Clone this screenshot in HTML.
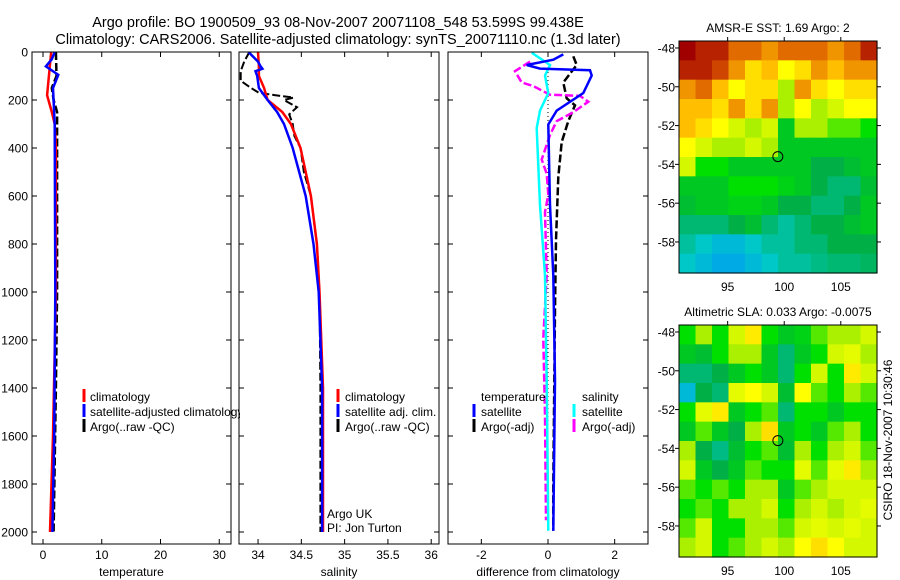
<!DOCTYPE html>
<html><head><meta charset="utf-8">
<style>
html,body{margin:0;padding:0;background:#fff;}
svg{display:block;font-family:"Liberation Sans",sans-serif;}
text{fill:#000;}
</style></head>
<body>
<svg id="fig" width="900" height="580" viewBox="0 0 900 580" xmlns="http://www.w3.org/2000/svg">
<text x="338" y="27" font-size="14.5" text-anchor="middle">Argo profile: BO 1900509_93 08-Nov-2007 20071108_548 53.599S 99.438E</text>
<text x="338" y="44" font-size="14.5" text-anchor="middle">Climatology: CARS2006. Satellite-adjusted climatology: synTS_20071110.nc (1.3d later)</text>
<g id="layer"></g>
</svg>
<script>
// ---------- DATA ----------
const depthTicks=[0,200,400,600,800,1000,1200,1400,1600,1800,2000];
const tempTicks=[0,10,20,30];
const salTicks=[34,34.5,35,35.5,36];
const salTickLabels=["34","34.5","35","35.5","36"];
const diffTicks=[-2,0,2];
const lonTicks=[95,100,105];
const latTicks=[-48,-50,-52,-54,-56,-58];

const tClimDepth=[0,100,180,250,300,400,1000,1600,2000];
const tClimVal=[1.4,1.0,0.7,1.5,2.0,2.2,2.2,1.7,1.2];
const tSatDepth=[0,30,60,95,150,300,1000,1600,2000];
const tSatVal=[2.0,1.5,0.5,2.6,1.7,2.0,2.1,1.9,1.6];
const tArgoDepth=[0,100,150,200,250,300,1000,1400,2000];
const tArgoVal=[2.2,2.3,1.5,1.8,2.4,2.4,2.4,2.2,1.8];

const sClimDepth=[0,60,100,150,200,250,300,400,600,800,1000,1400,2000];
const sClimVal=[34.0,34.01,34.01,34.07,34.11,34.28,34.38,34.49,34.61,34.68,34.71,34.75,34.75];
const sSatDepth=[0,40,60,70,80,100,150,200,250,300,400,600,800,1000,1400,2000];
const sSatVal=[33.89,34.0,34.03,34.05,33.97,33.99,34.01,34.11,34.22,34.3,34.4,34.55,34.64,34.7,34.74,34.74];
const sArgoDepth=[0,40,80,120,150,170,180,190,200,230,260,300,350,400,500,600,800,1000,1400,2000];
const sArgoVal=[33.9,33.84,33.8,33.8,33.92,34.01,34.2,34.41,34.3,34.45,34.36,34.4,34.42,34.49,34.53,34.61,34.68,34.71,34.72,34.72];

const dTSatDepth=[10,32,54,69,76,98,171,244,302,638,930,1367,1995];
const dTSatVal=[0.46,0.16,-0.64,-0.24,1.26,1.31,1.06,0.26,0.01,0.06,0.16,0.21,0.16];
const dSSatDepth=[3,54,98,171,244,317,638,930,1367,1995];
const dSSatVal=[-0.49,0.06,-0.09,0.01,-0.24,-0.34,-0.24,-0.09,-0.04,0.01];
const dTArgoDepth=[18,54,127,193,222,288,375,521,784,1075,1367,1805,1995];
const dTArgoVal=[0.76,0.86,0.46,0.56,0.81,0.61,0.41,0.31,0.24,0.21,0.19,0.16,0.16];
const dSArgoDepth=[40,80,127,142,178,183,207,251,288,346,448,507,594,667,930,1192,1513,1951];
const dSArgoVal=[-0.54,-0.99,-0.79,-0.44,0.06,0.96,1.21,0.76,0.26,0.06,-0.19,-0.04,0.01,-0.09,-0.04,-0.14,-0.09,-0.06];

const sstGrid=[
[1.0,0.95,0.95,0.85,0.85,0.8,0.85,0.85,0.85,0.8,0.85,0.95],
[0.95,0.95,0.9,0.8,0.7,0.75,0.65,0.7,0.8,0.75,0.8,0.8],
[0.8,0.85,0.75,0.65,0.7,0.7,0.55,0.8,0.7,0.65,0.7,0.7],
[0.75,0.75,0.7,0.8,0.7,0.8,0.55,0.65,0.55,0.6,0.65,0.65],
[0.75,0.7,0.65,0.6,0.55,0.6,0.4,0.55,0.55,0.5,0.5,0.45],
[0.65,0.6,0.55,0.55,0.6,0.55,0.4,0.4,0.4,0.4,0.4,0.4],
[0.6,0.45,0.45,0.4,0.4,0.4,0.4,0.4,0.35,0.35,0.38,0.4],
[0.4,0.4,0.4,0.45,0.45,0.45,0.42,0.4,0.35,0.3,0.3,0.38],
[0.38,0.4,0.4,0.42,0.42,0.4,0.35,0.35,0.3,0.3,0.35,0.4],
[0.3,0.3,0.3,0.35,0.38,0.3,0.25,0.3,0.35,0.35,0.38,0.4],
[0.25,0.2,0.15,0.15,0.2,0.25,0.25,0.3,0.3,0.35,0.35,0.35],
[0.2,0.15,0.1,0.1,0.15,0.2,0.25,0.25,0.28,0.3,0.3,0.32]];
const slaGrid=[
[0.45,0.55,0.45,0.6,0.68,0.45,0.4,0.42,0.5,0.55,0.55,0.6],
[0.4,0.38,0.45,0.55,0.55,0.4,0.3,0.4,0.45,0.6,0.62,0.55],
[0.3,0.3,0.35,0.4,0.45,0.4,0.3,0.45,0.6,0.45,0.68,0.6],
[0.15,0.35,0.3,0.62,0.65,0.6,0.38,0.65,0.5,0.45,0.55,0.5],
[0.45,0.62,0.68,0.4,0.45,0.5,0.3,0.45,0.45,0.4,0.45,0.45],
[0.4,0.5,0.4,0.35,0.55,0.7,0.4,0.45,0.4,0.5,0.55,0.45],
[0.55,0.35,0.28,0.38,0.45,0.5,0.38,0.55,0.45,0.55,0.6,0.5],
[0.6,0.4,0.35,0.4,0.5,0.45,0.45,0.62,0.5,0.62,0.68,0.55],
[0.5,0.45,0.5,0.45,0.55,0.55,0.4,0.5,0.55,0.6,0.6,0.6],
[0.45,0.5,0.45,0.55,0.55,0.6,0.45,0.55,0.6,0.55,0.6,0.62],
[0.5,0.6,0.45,0.45,0.55,0.55,0.5,0.6,0.62,0.6,0.62,0.6],
[0.55,0.6,0.45,0.5,0.55,0.6,0.55,0.65,0.7,0.65,0.6,0.6]];
const argoLon=99.438, argoLat=-53.599;

// ---------- DRAWING ----------
const NS="http://www.w3.org/2000/svg";
const layer=document.getElementById('layer');
function mk(tag,attrs,parent){const e=document.createElementNS(NS,tag);for(const k in attrs)e.setAttribute(k,attrs[k]);(parent||layer).appendChild(e);return e;}
function txt(s,x,y,size,anchor,name,parent){const t=mk('text',{x:x,y:y,'font-size':size,'text-anchor':anchor||'start'},parent);t.textContent=s;


return t;}

const pTop=52,pBot=544;
const yD=d=>pTop+d*0.24;
function lin(d0,d1,r0,r1){return v=>r0+(v-d0)/(d1-d0)*(r1-r0);}
const panels=[
 {name:'temperature-panel',x0:32,x1:231,sx:lin(-1.87,32,32,231),ticks:tempTicks,labels:tempTicks.map(String),xl:'temperature',ylab:true},
 {name:'salinity-panel',x0:239,x1:439,sx:lin(33.78,36.09,239,439),ticks:salTicks,labels:salTickLabels,xl:'salinity',ylab:false},
 {name:'difference-panel',x0:448,x1:648,sx:lin(-3,3,448,648),ticks:diffTicks,labels:diffTicks.map(String),xl:'difference from climatology',ylab:false}];
panels.forEach(p=>{
 const g=mk('g',{});
 
 
 p.g=g;
 depthTicks.forEach(d=>{const y=yD(d);
  mk('line',{x1:p.x0,x2:p.x0+5,y1:y,y2:y,stroke:'#000'},g);
  mk('line',{x1:p.x1,x2:p.x1-5,y1:y,y2:y,stroke:'#000'},g);
  if(p.ylab)txt(String(d),28,y+4.5,12,'end','y-tick-label',g);});
 p.ticks.forEach((v,i)=>{const x=p.sx(v);
  mk('line',{x1:x,x2:x,y1:pBot,y2:pBot-5,stroke:'#000'},g);
  mk('line',{x1:x,x2:x,y1:pTop,y2:pTop+5,stroke:'#000'},g);
  txt(p.labels[i],x,559,12,'middle','x-tick-label',g);});
 txt(p.xl,(p.x0+p.x1)/2,576,12,'middle','x-axis-title',g);
 const cp=mk('clipPath',{id:'c'+p.name},g);mk('rect',{x:p.x0,y:pTop,width:p.x1-p.x0,height:pBot-pTop},cp);
});
function series(p,depths,vals,color,w,dash,name){
 const pts=depths.map((d,i)=>p.sx(vals[i]).toFixed(1)+','+yD(d).toFixed(1)).join(' ');
 const l=mk('polyline',{points:pts,fill:'none',stroke:color,'stroke-width':w,'clip-path':'url(#c'+p.name+')'},p.g);
 if(dash)l.setAttribute('stroke-dasharray',dash);
 
 
}
const [P1,P2,P3]=panels;
series(P1,tArgoDepth,tArgoVal,'#000',2.5,'8,3','temp-argo-line');
series(P1,tClimDepth,tClimVal,'#f00',2.5,null,'temp-climatology-line');
series(P1,tSatDepth,tSatVal,'#00f',2.5,null,'temp-satellite-line');
series(P2,sArgoDepth,sArgoVal,'#000',2,'8,3','sal-argo-line');
series(P2,sClimDepth,sClimVal,'#f00',2.5,null,'sal-climatology-line');
series(P2,sSatDepth,sSatVal,'#00f',2.5,null,'sal-satellite-line');
{const z=mk('line',{x1:P3.sx(0),x2:P3.sx(0),y1:pTop,y2:yD(2000),stroke:'#000','stroke-dasharray':'1,3'},P3.g);

}
series(P3,dTArgoDepth,dTArgoVal,'#000',2.5,'8,3','diff-temp-argo-line');
series(P3,dSArgoDepth,dSArgoVal,'#f0f',2.5,'8,3','diff-sal-argo-line');
series(P3,dSSatDepth,dSSatVal,'#0ff',2.5,null,'diff-sal-satellite-line');
series(P3,dTSatDepth,dTSatVal,'#00f',2.5,null,'diff-temp-satellite-line');
panels.forEach(p=>{const r=mk('rect',{x:p.x0,y:pTop,width:p.x1-p.x0,height:pBot-pTop,fill:'none',stroke:'#000'},p.g);

});

// legends
function legend(g,mx,tx,y,color,label,name){
 const m=mk('rect',{x:mx-1.5,y:y-8,width:3,height:13,fill:color},g);
 
 
 txt(label,tx,y+4,12,'start',name,g);}
{const cp=mk('clipPath',{id:'legclip'});mk('rect',{x:0,y:0,width:240,height:580},cp);
const g=mk('g',{'clip-path':'url(#legclip)'});


legend(g,84,90,397,'#f00','climatology','legend-climatology');
legend(g,84,90,412,'#00f','satellite-adjusted climatology','legend-satellite-adjusted');
legend(g,84,90,427,'#000','Argo(..raw -QC)','legend-argo');}
{const g=mk('g',{});


legend(g,338,345,397,'#f00','climatology','legend-climatology');
legend(g,338,345,412,'#00f','satellite adj. clim.','legend-satellite-adj');
legend(g,338,345,427,'#000','Argo(..raw -QC)','legend-argo');
txt('Argo UK',327,518,12,'start','argo-uk-label',g);
txt('PI: Jon Turton',327,532,12,'start','pi-label',g);}
{const g=mk('g',{});


txt('temperature',481,401,12,'start','legend-temperature-heading',g);
legend(g,474,481,412,'#00f','satellite','legend-temp-satellite');
legend(g,474,481,427,'#000','Argo(-adj)','legend-temp-argo');
txt('salinity',582,401,12,'start','legend-salinity-heading',g);
legend(g,574,582,412,'#0ff','satellite','legend-sal-satellite');
legend(g,574,582,427,'#f0f','Argo(-adj)','legend-sal-argo');}

// maps
const stops=[[0,[0,140,255]],[0.2,[0,200,200]],[0.35,[0,176,70]],[0.45,[0,224,0]],[0.55,[170,240,0]],[0.65,[255,255,0]],[0.75,[255,190,0]],[0.87,[220,90,0]],[1,[160,0,0]]];
function cmap(v){for(let i=1;i<stops.length;i++){if(v<=stops[i][0]){const a=stops[i-1],b=stops[i],t=(v-a[0])/(b[0]-a[0]);return 'rgb('+a[1].map((c,k)=>Math.round(c+t*(b[1][k]-c))).join(',')+')';}}return 'rgb(160,0,0)';}
function map(grid,top,title,name){
 const x0=679,x1=877,y0=top,y1=top+232;
 const lonMin=90.7,lonMax=108.2,latMax=-47.64,latMin=-59.6;
 const sx=lin(lonMin,lonMax,x0,x1),sy=lin(latMax,latMin,y0,y1);
 const g=mk('g',{});
 
 
 const rows=grid.length,cols=grid[0].length,cw=(x1-x0)/cols,ch=(y1-y0)/rows;
 grid.forEach((row,r)=>row.forEach((v,c)=>{
  const cell=mk('rect',{x:x0+c*cw,y:y0+r*ch,width:cw+0.6,height:ch+0.6,fill:cmap(v)},g);
  
  }));
 mk('rect',{x:x0,y:y0,width:x1-x0,height:y1-y0,fill:'none',stroke:'#000'},g);
 lonTicks.forEach(l=>{const x=sx(l);mk('line',{x1:x,x2:x,y1:y0,y2:y0-4,stroke:'#000'},g);txt(String(l),x,y1+18,12,'middle','lon-tick-label',g);});
 latTicks.forEach(l=>{const y=sy(l);mk('line',{x1:x0,x2:x0-4,y1:y,y2:y,stroke:'#000'},g);mk('line',{x1:x1,x2:x1+4,y1:y,y2:y,stroke:'#000'},g);txt(String(l),675,y+4.5,12,'end','lat-tick-label',g);});
 txt(title,(x0+x1)/2,top-9,12,'middle','map-title',g);
 const m=mk('circle',{cx:sx(argoLon),cy:sy(argoLat),r:5,fill:'none',stroke:'#000'},g);
 
 
}
map(sstGrid,41,'AMSR-E SST: 1.69 Argo: 2','sst-map');
map(slaGrid,325,'Altimetric SLA: 0.033 Argo: -0.0075','sla-map');
{const t=txt('CSIRO 18-Nov-2007 10:30:46',0,0,12,'middle','timestamp-label');
t.setAttribute('transform','translate(892,440) rotate(-90)');}
</script>
</body></html>
